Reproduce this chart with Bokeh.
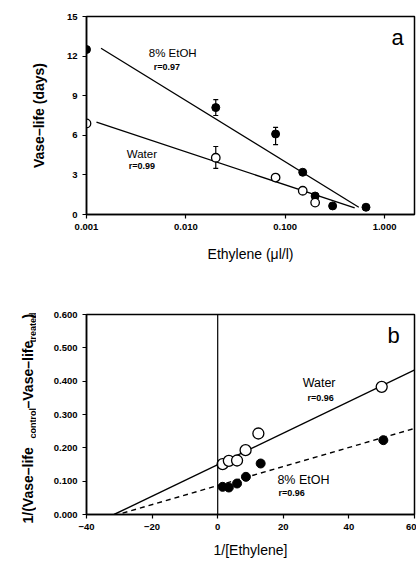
import math
from bokeh.plotting import figure
from bokeh.layouts import column, row
from bokeh.models import (ColumnDataSource, Whisker, TeeHead, Label, Span,
                          FixedTicker, CustomJSTickFormatter, Range1d)
from bokeh.core.properties import value
from bokeh.embed import file_html
from bokeh.resources import INLINE

# ---------------- Panel a data ----------------
eth_etoh = [0.001, 0.02, 0.08, 0.15, 0.2, 0.3, 0.65]
vl_etoh = [12.5, 8.1, 6.1, 3.2, 1.4, 0.65, 0.55]
eth_water = [0.001, 0.02, 0.08, 0.15, 0.2]
vl_water = [6.9, 4.3, 2.8, 1.8, 0.9]
err_x = [0.02, 0.08, 0.02]
err_lo = [7.5, 5.3, 3.5]
err_hi = [8.7, 6.6, 5.15]
fit_a_etoh_x = [0.0014, 0.55]
fit_a_etoh_y = [12.6, 0.55]
fit_a_water_x = [0.00126, 0.5]
fit_a_water_y = [7.0, 0.5]
xticks_a = [0.001, 0.01, 0.1, 1.0]
yticks_a = [0, 3, 6, 9, 12, 15]

# ---------------- Panel b data ----------------
inv_water = [1.5, 3.4, 5.9, 8.5, 12.4, 50.0]
lb_water = [0.151, 0.161, 0.162, 0.193, 0.243, 0.383]
inv_etoh = [1.5, 3.4, 5.9, 8.6, 13.1, 50.5]
lb_etoh = [0.083, 0.081, 0.093, 0.113, 0.153, 0.223]
fit_b_water_x = [-31.6, 61.0]
fit_b_water_y = [0.0, 0.438]
fit_b_etoh_x = [-29.0, 61.0]
fit_b_etoh_y = [0.004, 0.261]
xticks_b = [-40, -20, 0, 20, 40, 60]
yticks_b = [0.0, 0.1, 0.2, 0.3, 0.4, 0.5, 0.6]

# y-axis title of panel b (pieces: main text and subscripts)
ytitle_b_main = ["1/(Vase\u2013life", "\u2013Vase\u2013life", ")"]
ytitle_b_sub = ["control", "treated"]

FONT = "Liberation Sans"


def style_axes(p):
    for ax in (p.xaxis[0], p.yaxis[0]):
        ax.axis_line_width = 1.5
        ax.axis_line_color = "black"
        ax.major_tick_line_color = "black"
        ax.major_tick_line_width = 1.2
        ax.major_tick_in = 0
        ax.major_tick_out = 4
        ax.minor_tick_line_color = None
        ax.major_label_text_font = FONT
        ax.major_label_text_font_style = "bold"
        ax.major_label_text_font_size = "9.5px"
        ax.major_label_text_color = "black"
        ax.axis_label_text_font = FONT
        ax.axis_label_text_color = "black"
    p.grid.visible = False
    p.outline_line_color = "black"
    p.outline_line_width = 1.5
    p.background_fill_color = "white"
    p.border_fill_color = "white"


def label(p, x, y, text, size, style="normal", align="left", baseline="middle"):
    p.add_layout(Label(x=x, y=y, text=text, text_font=FONT, text_font_size=size,
                       text_font_style=style, text_align=align, text_baseline=baseline,
                       text_color="black"))


# ================= Panel a =================
p1 = figure(frame_width=328, frame_height=198, x_axis_type="log",
            x_range=Range1d(0.001, 2.0), y_range=Range1d(0, 15),
            min_border_left=86, min_border_right=2, min_border_top=16, min_border_bottom=56,
            toolbar_location=None, output_backend="svg")
style_axes(p1)
p1.xaxis.ticker = FixedTicker(ticks=xticks_a)
p1.xaxis.formatter = CustomJSTickFormatter(code="return tick.toFixed(3);")
p1.yaxis.ticker = FixedTicker(ticks=yticks_a)
p1.xaxis.axis_label = "Ethylene (\u03bcl/l)"
p1.yaxis.axis_label = "Vase\u2013life (days)"
p1.xaxis.axis_label_text_font_size = "14px"
p1.xaxis.axis_label_text_font_style = "normal"
p1.xaxis.axis_label_standoff = 13
p1.yaxis.axis_label_text_font_size = "14px"
p1.yaxis.axis_label_text_font_style = "bold"
p1.yaxis.axis_label_standoff = 17

p1.line(fit_a_etoh_x, fit_a_etoh_y, line_color="black", line_width=1.3)
p1.line(fit_a_water_x, fit_a_water_y, line_color="black", line_width=1.3)

err_src = ColumnDataSource(dict(x=err_x, lo=err_lo, hi=err_hi))
p1.add_layout(Whisker(source=err_src, base="x", lower="lo", upper="hi", dimension="height",
                      line_color="black", line_width=1.2,
                      upper_head=TeeHead(size=5, line_color="black", line_width=1.2),
                      lower_head=TeeHead(size=5, line_color="black", line_width=1.2)))

p1.scatter(eth_etoh, vl_etoh, marker="circle", size=8, fill_color="black", line_color="black")
p1.scatter(eth_water, vl_water, marker="circle", size=8.5, fill_color="white",
           line_color="black", line_width=1.3)

label(p1, 0.00423, 12.2, "8% EtOH", "11.5px")
label(p1, 0.00475, 11.2, "r=0.97", "9px", style="bold")
label(p1, 0.00254, 4.55, "Water", "11.5px")
label(p1, 0.00266, 3.64, "r=0.99", "9px", style="bold")
label(p1, 1.35, 13.4, "a", "22px", align="center")

# ================= Panel b =================
p2 = figure(frame_width=328, frame_height=200,
            x_range=Range1d(-40, 60), y_range=Range1d(0, 0.6),
            min_border_left=50, min_border_right=2, min_border_top=44, min_border_bottom=46,
            toolbar_location=None, output_backend="svg")
style_axes(p2)
p2.xaxis.ticker = FixedTicker(ticks=xticks_b)
p2.yaxis.ticker = FixedTicker(ticks=yticks_b)
p2.yaxis.formatter = CustomJSTickFormatter(code="return tick.toFixed(3);")
p2.xaxis.axis_label = "1/[Ethylene]"
p2.xaxis.axis_label_text_font_size = "14px"
p2.xaxis.axis_label_text_font_style = "normal"
p2.xaxis.axis_label_standoff = 9

p2.add_layout(Span(location=0, dimension="height", line_color="black", line_width=1.2))

p2.line(fit_b_water_x, fit_b_water_y, line_color="black", line_width=1.4)
p2.line(fit_b_etoh_x, fit_b_etoh_y, line_color="black", line_width=1.4, line_dash="5 4")

p2.scatter(inv_etoh, lb_etoh, marker="circle", size=9, fill_color="black", line_color="black")
p2.scatter(inv_water, lb_water, marker="circle", size=11, fill_color="white",
           line_color="black", line_width=1.3)

label(p2, 25.9, 0.396, "Water", "12.5px")
label(p2, 27.4, 0.351, "r=0.96", "9px", style="bold")
label(p2, 18.2, 0.105, "8% EtOH", "12.5px")
label(p2, 18.5, 0.066, "r=0.96", "9px", style="bold")
label(p2, 53.6, 0.537, "b", "22px", align="center")

# ---- narrow strip holding panel b's rotated y-axis title ----
tf = figure(frame_width=36, frame_height=290, x_range=Range1d(0, 36), y_range=Range1d(0, 290),
            x_axis_location=None, y_axis_location=None, min_border=0,
            toolbar_location=None, output_backend="svg")
tf.grid.visible = False
tf.outline_line_color = None
tf.background_fill_color = "white"
tf.border_fill_color = "white"
tf.text(x=[27, 27, 27], y=[37, 152, 242], text=ytitle_b_main, angle=math.pi / 2,
        text_font=value(FONT), text_font_size=value("14px"), text_font_style="bold",
        text_align="left", text_baseline="middle", text_color="black")
tf.text(x=[32, 32], y=[122, 218], text=ytitle_b_sub, angle=math.pi / 2,
        text_font=value(FONT), text_font_size=value("9px"), text_font_style="bold",
        text_align="left", text_baseline="middle", text_color="black")

layout = column(p1, row(column(tf), p2))
open("out.html", "w").write(file_html(layout, INLINE))
